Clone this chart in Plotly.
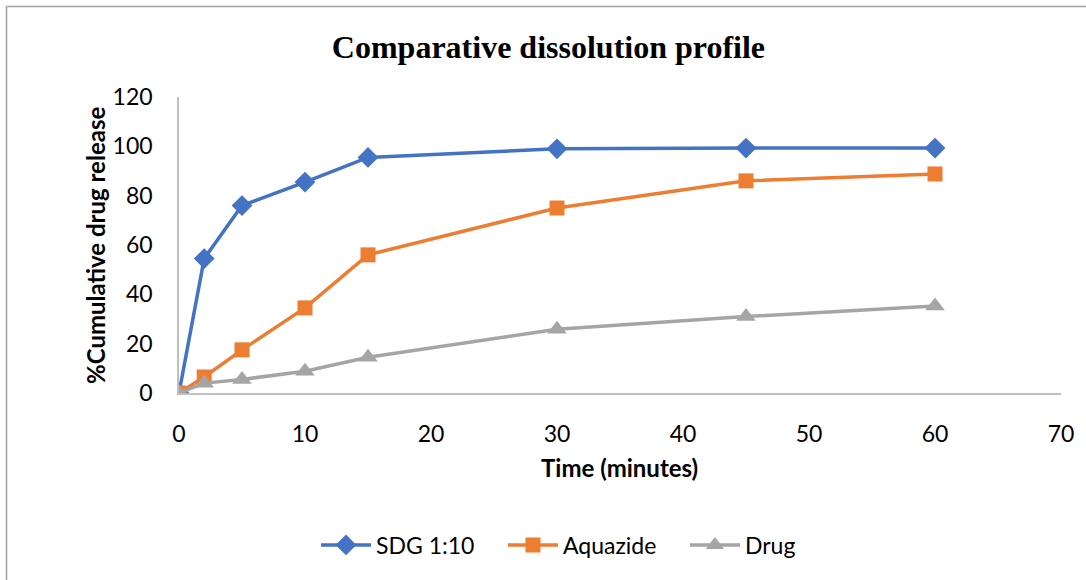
import plotly.graph_objects as go

time_min = [0, 2, 5, 10, 15, 30, 45, 60]
sdg = [0, 54.5, 76, 85.5, 95.5, 99, 99.3, 99.3]
aquazide = [0, 6.5, 17.5, 34.5, 56, 75, 86, 88.8]
drug = [0, 4, 5.5, 8.8, 14.5, 25.8, 31, 35.3]

series_names = ["SDG 1:10", "Aquazide", "Drug"]
series_colors = ["#4472C4", "#ED7D31", "#A5A5A5"]
series_symbols = ["diamond", "square", "triangle-up"]
series_sizes = [16, 15, 17]
series_values = [sdg, aquazide, drug]

x_ticks = [0, 10, 20, 30, 40, 50, 60, 70]
y_ticks = [0, 20, 40, 60, 80, 100, 120]

fig = go.Figure()
for name, color, sym, size, vals in zip(series_names, series_colors, series_symbols, series_sizes, series_values):
    fig.add_trace(go.Scatter(
        x=time_min, y=vals, name=name + "\u00a0\u00a0\u00a0\u00a0", mode="lines+markers",
        line=dict(color=color, width=3.5),
        marker=dict(symbol=sym, size=size, color=color, line=dict(width=0)),
    ))

L, R, T, B = 179, 25, 97, 187
W, H = 1086, 580
pw = W - L - R
ph = H - T - B

def px_x(px):
    return (px - L) / pw

def px_y(py):
    return (H - B - py) / ph

font_main = "Lato, Open Sans, sans-serif"

fig.update_layout(
    width=W, height=H,
    margin=dict(l=L, r=R, t=T, b=B, pad=0),
    paper_bgcolor="white", plot_bgcolor="white",
    font=dict(family=font_main, size=23, color="#000000"),
    title=dict(text="<b>Comparative dissolution profile</b>",
               font=dict(family="Liberation Serif, Times New Roman, serif", size=32, color="#000000"),
               x=0.505, xanchor="center", y=1 - 47 / H, yanchor="middle"),
    xaxis=dict(range=[0, 70], tickvals=x_ticks, ticks="", showgrid=False, zeroline=False,
               showline=True, linecolor="#BFBFBF", linewidth=1.5,
               tickfont=dict(size=23), ticklabelstandoff=20),
    yaxis=dict(range=[0, 120], tickvals=y_ticks, ticks="", showgrid=False, zeroline=False,
               showline=True, linecolor="#BFBFBF", linewidth=1.5,
               tickfont=dict(size=23), ticklabelstandoff=20),
    legend=dict(orientation="h", x=px_x(570), xanchor="center", y=px_y(545), yanchor="middle",
                font=dict(size=23), itemwidth=50, bgcolor="rgba(0,0,0,0)"),
    showlegend=True,
)

fig.add_annotation(text="<b>Time (minutes)</b>", xref="paper", yref="paper",
                   x=px_x(619), y=px_y(467), showarrow=False,
                   font=dict(size=24, family=font_main), xanchor="center", yanchor="middle")
fig.add_annotation(text="<b>%Cumulative drug release</b>", xref="paper", yref="paper",
                   x=px_x(95), y=px_y(246), showarrow=False, textangle=-90,
                   font=dict(size=24, family=font_main), xanchor="center", yanchor="middle")

# outer chart frame (left and top edges)
fig.add_shape(type="line", xref="paper", yref="paper", x0=px_x(6.5), x1=px_x(1090),
              y0=px_y(6.5), y1=px_y(6.5), line=dict(color="#A0A0A0", width=1.5))
fig.add_shape(type="line", xref="paper", yref="paper", x0=px_x(6.5), x1=px_x(6.5),
              y0=px_y(6.5), y1=px_y(590), line=dict(color="#A0A0A0", width=1.5))

fig.write_html("out.html")
